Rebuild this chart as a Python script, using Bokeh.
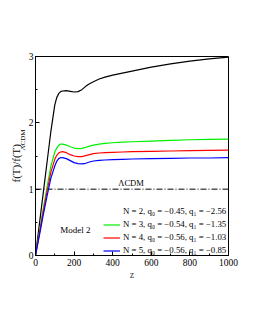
import math
from bokeh.plotting import figure
from bokeh.models import Legend, LegendItem, Label, FixedTicker, Title
from bokeh.core.properties import value
from bokeh.embed import file_html
from bokeh.resources import INLINE

z = [0, 20, 40, 60, 80, 100, 110, 120, 130, 140, 160, 180, 200, 220, 240, 260, 280, 300, 330, 360, 400, 450, 500, 600, 700, 800, 900, 1000]
f_n2 = [0, 0.47, 0.94, 1.41, 1.88, 2.27, 2.38, 2.44, 2.47, 2.48, 2.485, 2.475, 2.465, 2.47, 2.50, 2.55, 2.59, 2.62, 2.66, 2.69, 2.72, 2.75, 2.78, 2.84, 2.89, 2.93, 2.965, 2.99]
f_n3 = [0, 0.35, 0.70, 1.04, 1.35, 1.56, 1.62, 1.66, 1.68, 1.68, 1.665, 1.64, 1.62, 1.61, 1.615, 1.63, 1.65, 1.665, 1.68, 1.69, 1.70, 1.71, 1.715, 1.725, 1.735, 1.745, 1.75, 1.755]
f_n4 = [0, 0.33, 0.66, 0.97, 1.26, 1.45, 1.51, 1.545, 1.56, 1.565, 1.55, 1.52, 1.50, 1.49, 1.49, 1.505, 1.52, 1.535, 1.545, 1.55, 1.555, 1.56, 1.565, 1.57, 1.575, 1.58, 1.585, 1.59]
f_n5 = [0, 0.30, 0.61, 0.90, 1.17, 1.35, 1.42, 1.46, 1.475, 1.475, 1.46, 1.43, 1.40, 1.385, 1.38, 1.39, 1.41, 1.425, 1.435, 1.44, 1.445, 1.45, 1.455, 1.46, 1.465, 1.47, 1.47, 1.475]
lcdm_z = [0, 1000]
lcdm_f = [1, 1]

labels = [
    "N = 2, q\u2080 = \u22120.45, q\u2081 = \u22122.56",
    "N = 3, q\u2080 = \u22120.54, q\u2081 = \u22121.35",
    "N = 4, q\u2080 = \u22120.56, q\u2081 = \u22121.03",
    "N = 5, q\u2080 = \u22120.56, q\u2081 = \u22120.85",
]
x_ticks = [0, 200, 400, 600, 800, 1000]
y_ticks = [0, 1, 2, 3]

FONT = "Liberation Serif"

p = figure(width=239, height=290, output_backend="svg", toolbar_location=None,
           x_range=(0, 1000), y_range=(0, 3),
           min_border_left=35, min_border_right=11, min_border_top=56, min_border_bottom=35)
p.grid.visible = False
p.outline_line_color = "black"
p.outline_line_width = 1
p.background_fill_color = "white"
p.border_fill_color = "white"

for ax in (p.xaxis[0], p.yaxis[0]):
    ax.major_tick_in = 4
    ax.major_tick_out = 0
    ax.minor_tick_in = 2
    ax.minor_tick_out = 0
    ax.major_label_text_font = FONT
    ax.major_label_text_font_size = "9.5px"
    ax.major_label_text_color = "black"
    ax.axis_line_color = "black"
    ax.major_tick_line_color = "black"
    ax.minor_tick_line_color = "black"
    ax.major_label_standoff = 3

p.yaxis.axis_label_standoff = 0
p.yaxis.major_label_standoff = 2
p.xaxis.ticker = FixedTicker(ticks=x_ticks, minor_ticks=list(range(0, 1001, 100)))
p.yaxis.ticker = FixedTicker(ticks=y_ticks, minor_ticks=[0.5 * i for i in range(7)])
p.xaxis.axis_label = "z"
p.xaxis.axis_label_text_font = FONT
p.xaxis.axis_label_text_font_style = "normal"
p.xaxis.axis_label_text_font_size = "10px"
p.xaxis.axis_label_standoff = 0

p.line(lcdm_z, lcdm_f, line_color="black", line_width=1, line_dash="6 2 1 2")
r2 = p.line(z, f_n2, line_color="black", line_width=1.2)
r3 = p.line(z, f_n3, line_color="#00ee00", line_width=1.2)
r4 = p.line(z, f_n4, line_color="#ff0000", line_width=1.2)
r5 = p.line(z, f_n5, line_color="#0000ff", line_width=1.2)
leg2 = p.line([], [], line_color="#999999", line_width=2)

legend = Legend(items=[
    LegendItem(label=labels[0], renderers=[leg2]),
    LegendItem(label=labels[1], renderers=[r3]),
    LegendItem(label=labels[2], renderers=[r4]),
    LegendItem(label=labels[3], renderers=[r5]),
], location=(68, 0), orientation="vertical")
legend.label_text_font = FONT
legend.label_text_font_size = "8.8px"
legend.label_text_color = "black"
legend.glyph_width = 17
legend.glyph_height = 9
legend.label_height = 9
legend.label_standoff = 3
legend.spacing = 3
legend.padding = 0
legend.margin = 0
legend.border_line_alpha = 0
legend.background_fill_alpha = 0
p.add_layout(legend)

p.add_layout(Label(x=495, y=1.02, text="\u039bCDM", text_font=FONT, text_font_size="8.5px",
                   text_align="center", text_baseline="bottom", text_color="black"))
p.add_layout(Label(x=207, y=0.38, text="Model 2", text_font=FONT, text_font_size="9px",
                   text_align="center", text_baseline="middle", text_color="black"))

sub_title = Title(text="\u039bCDM", align="left", offset=105, standoff=-3, vertical_align="bottom",
                  text_font=FONT, text_font_size="7px", text_font_style="normal", text_color="black")
main_title = Title(text="f(T)/f(T)", align="left", offset=73, standoff=-7, vertical_align="bottom",
                   text_font=FONT, text_font_size="11px", text_font_style="normal", text_color="black")
p.add_layout(sub_title, "left")
p.add_layout(main_title, "left")

open("out.html", "w").write(file_html(p, INLINE))
